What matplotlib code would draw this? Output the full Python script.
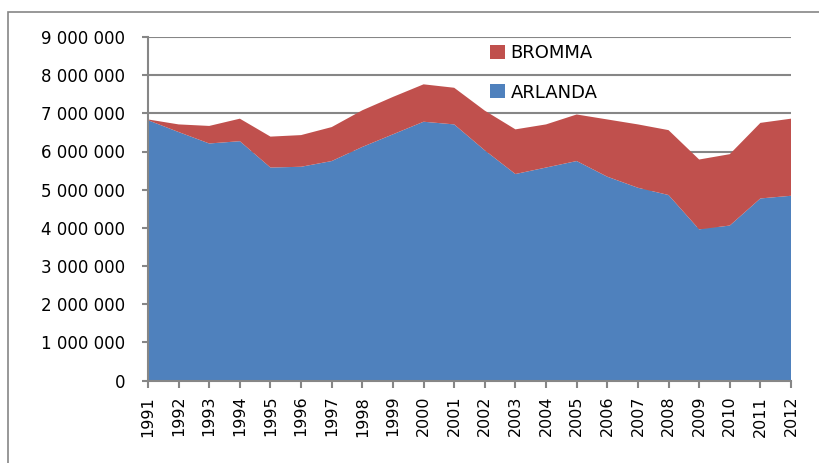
import matplotlib
matplotlib.use("Agg")
import matplotlib.pyplot as plt
from matplotlib.patches import Rectangle
from matplotlib.ticker import FuncFormatter

years = list(range(1991, 2013))
arlanda = [6.82, 6.51, 6.21, 6.27, 5.58, 5.60, 5.75, 6.12, 6.45, 6.78, 6.71,
           6.03, 5.41, 5.58, 5.75, 5.34, 5.05, 4.86, 3.96, 4.06, 4.77, 4.84]
total = [6.84, 6.71, 6.67, 6.86, 6.39, 6.43, 6.64, 7.08, 7.43, 7.76, 7.67,
         7.07, 6.58, 6.71, 6.97, 6.84, 6.71, 6.56, 5.79, 5.93, 6.75, 6.86]
arlanda = [v * 1e6 for v in arlanda]
bromma = [t * 1e6 - a for t, a in zip(total, arlanda)]

blue = "#4F81BD"
red = "#C0504D"
grey = "#868686"

fig = plt.figure(figsize=(8.19, 4.63), dpi=100)
ax = fig.add_axes([148 / 819, 1 - 380.5 / 463, 643 / 819, 343.5 / 463])

ax.stackplot(years, arlanda, bromma, colors=[blue, red], labels=["ARLANDA", "BROMMA"],
             linewidth=0)

ax.set_xlim(1991, 2012)
ax.set_ylim(0, 9e6)
ax.set_yticks([i * 1e6 for i in range(10)])
ax.set_xticks(years)
ax.yaxis.set_major_formatter(FuncFormatter(lambda v, p: f"{int(v):,}".replace(",", " ")))
ax.tick_params(axis="x", rotation=90, labelsize=11.5, length=5, width=1.5, color=grey, pad=6)
ax.tick_params(axis="y", labelsize=12, length=4.5, width=1.5, color=grey, pad=12)
ax.grid(axis="y", color=grey, linewidth=1.5)
ax.set_axisbelow(True)
for s in ["top", "right"]:
    ax.spines[s].set_visible(False)
for s in ["left", "bottom"]:
    ax.spines[s].set_color(grey)
    ax.spines[s].set_linewidth(1.5)

h, l = ax.get_legend_handles_labels()
ax.legend(h[::-1], l[::-1], loc="upper left", bbox_to_anchor=(490 / 819, 1 - 44 / 463),
          bbox_transform=fig.transFigure, frameon=False, fontsize=13, borderpad=0,
          borderaxespad=0, handlelength=0.83, handleheight=0.8, handletextpad=0.3,
          labelspacing=1.2)

fig.patches.append(Rectangle((8 / 819, -0.1), 1.2, 1 - 12 / 463 + 0.1, transform=fig.transFigure,
                             fill=False, edgecolor=grey, linewidth=1.2))

fig.savefig("out.png", dpi=100)
